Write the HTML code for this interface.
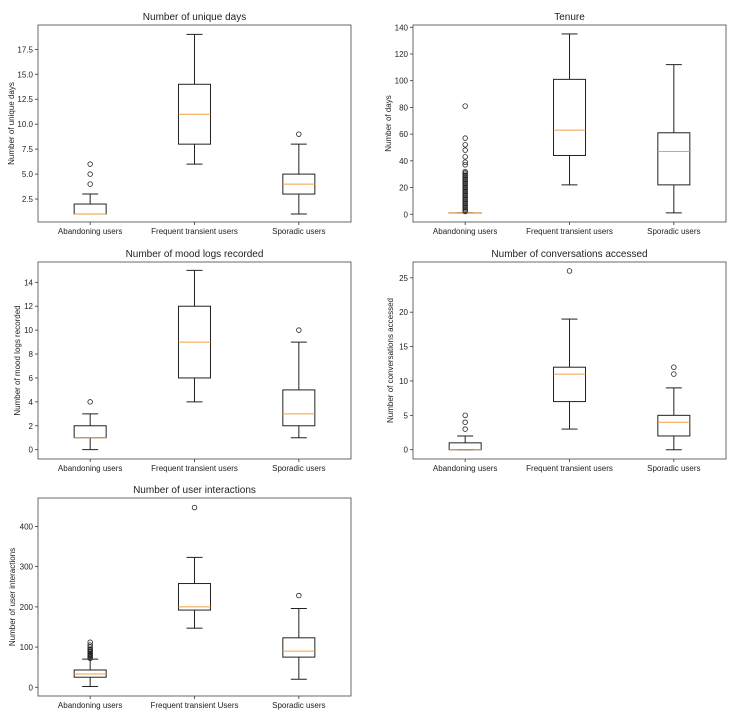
<!DOCTYPE html>
<html><head><meta charset="utf-8"><style>
html,body{margin:0;padding:0;background:#fff;}
svg{display:block;font-family:"Liberation Sans",sans-serif;}
</style></head><body>
<svg id="fig" width="752" height="725" viewBox="0 0 752 725"></svg>
<script>
// ---- Data ----
const categories = ["Abandoning users","Frequent transient users","Sporadic users"];
const categories5 = ["Abandoning users","Frequent transient Users","Sporadic users"];
// stats: [low whisker, q1, median, q3, high whisker]
const uniqueDaysStats = [[1,1,1,2,3],[6,8,11,14,19],[1,3,4,5,8]];
const uniqueDaysFliers = [[4,5,6],[],[9]];
const uniqueDaysTicks = [2.5,5,7.5,10,12.5,15,17.5];
const tenureStats = [[1,1,1,1,1],[22,44,63,101,135],[1,22,47,61,112]];
const tenureFliers = [[2,3,4,5,6,7,8,9,10,11,12,13,14,15,16,17,18,19,20,21,22,23,24,25,26,27,28,29,30,31,32,37,39,43,48,52,57,81],[],[]];
const tenureTicks = [0,20,40,60,80,100,120,140];
const moodStats = [[0,1,1,2,3],[4,6,9,12,15],[1,2,3,5,9]];
const moodFliers = [[4],[],[10]];
const moodTicks = [0,2,4,6,8,10,12,14];
const convStats = [[0,0,0,1,2],[3,7,11,12,19],[0,2,4,5,9]];
const convFliers = [[3,4,5],[26],[11,12]];
const convTicks = [0,5,10,15,20,25];
const interStats = [[2,25,33,43,70],[147,192,200,258,323],[20,75,90,123,196]];
const interFliers = [[72,75,78,80,82,85,88,90,93,95,100,105,112],[447],[228]];
const interTicks = [0,100,200,300,400];

const panels = [
 {name:"unique-days",title:"Number of unique days",ylabel:"Number of unique days",x0:38,x1:351,y0:25,y1:222,dom:[0.2,19.94],stats:uniqueDaysStats,fliers:uniqueDaysFliers,ticks:uniqueDaysTicks,cats:categories,fmt:v=>v.toFixed(1),ylx:12},
 {name:"tenure",title:"Tenure",ylabel:"Number of days",x0:413,x1:726,y0:25,y1:222,dom:[-5.8,141.7],stats:tenureStats,fliers:tenureFliers,ticks:tenureTicks,cats:categories,fmt:v=>String(v),ylx:389},
 {name:"mood-logs",title:"Number of mood logs recorded",ylabel:"Number of mood logs recorded",x0:38,x1:351,y0:262,y1:459,dom:[-0.78,15.7],stats:moodStats,fliers:moodFliers,ticks:moodTicks,cats:categories,fmt:v=>String(v),ylx:18},
 {name:"conversations",title:"Number of conversations accessed",ylabel:"Number of conversations accessed",x0:413,x1:726,y0:262,y1:459,dom:[-1.35,27.3],stats:convStats,fliers:convFliers,ticks:convTicks,cats:categories,fmt:v=>String(v),ylx:391},
 {name:"user-interactions",title:"Number of user interactions",ylabel:"Number of user interactions",x0:38,x1:351,y0:498,y1:696,dom:[-21.7,470.7],stats:interStats,fliers:interFliers,ticks:interTicks,cats:categories5,fmt:v=>String(v),ylx:13}
];
const NS="http://www.w3.org/2000/svg";
const svg=document.getElementById('fig');
function mk(tag,attrs,parent){const e=document.createElementNS(NS,tag);for(const k in attrs)e.setAttribute(k,attrs[k]);(parent||svg).appendChild(e);return e;}
panels.forEach(p=>{
  const g=mk('g',{});
  
  
  const y=v=>p.y1-(v-p.dom[0])/(p.dom[1]-p.dom[0])*(p.y1-p.y0);
  const w=p.x1-p.x0;
  const x=i=>p.x0+w*(i+0.5)/3*1+0; // centers
  const cx=i=>p.x0+w*(0.5+i)/3;
  const t=mk('text',{x:(p.x0+p.x1)/2,y:p.y0-5,'text-anchor':'middle','font-size':10,fill:'#222'},g);
  t.textContent=p.title;
  
  
  const yl=mk('text',{x:p.ylx,y:(p.y0+p.y1)/2,'text-anchor':'middle','font-size':8,fill:'#222',transform:`rotate(-90 ${p.ylx} ${(p.y0+p.y1)/2})`,'dominant-baseline':'middle'},g);
  yl.textContent=p.ylabel;
  
  
  p.ticks.forEach(v=>{
    const yy=y(v);
    mk('line',{x1:p.x0-3,x2:p.x0,y1:yy,y2:yy,stroke:'#333','stroke-width':0.8},g);
    const tl=mk('text',{x:p.x0-5,y:yy+3,'text-anchor':'end','font-size':8,fill:'#222'},g);
    tl.textContent=p.fmt(v);
    
    
  });
  p.cats.forEach((c,i)=>{
    const xx=cx(i);
    mk('line',{x1:xx,x2:xx,y1:p.y1,y2:p.y1+3,stroke:'#333','stroke-width':0.8},g);
    const xl=mk('text',{x:xx,y:p.y1+12,'text-anchor':'middle','font-size':8,fill:'#222'},g);
    xl.textContent=c;
    
    
    const s=p.stats[i];
    const bw=32,cw=16;
    const bg=mk('g',{},g);
    
    
    mk('line',{x1:xx,x2:xx,y1:y(s[0]),y2:y(s[1]),stroke:'#222','stroke-width':1},bg);
    mk('line',{x1:xx,x2:xx,y1:y(s[3]),y2:y(s[4]),stroke:'#222','stroke-width':1},bg);
    mk('line',{x1:xx-cw/2,x2:xx+cw/2,y1:y(s[0]),y2:y(s[0]),stroke:'#222','stroke-width':1},bg);
    mk('line',{x1:xx-cw/2,x2:xx+cw/2,y1:y(s[4]),y2:y(s[4]),stroke:'#222','stroke-width':1},bg);
    mk('rect',{x:xx-bw/2,y:y(s[3]),width:bw,height:Math.max(0.01,y(s[1])-y(s[3])),fill:'none',stroke:'#222','stroke-width':1},bg);
    mk('line',{x1:xx-bw/2,x2:xx+bw/2,y1:y(s[2]),y2:y(s[2]),stroke:'#f0a040','stroke-width':1},bg);
    p.fliers[i].forEach(f=>{
      mk('circle',{cx:xx,cy:y(f),r:2.3,fill:'none',stroke:'#222','stroke-width':0.8},bg);
    });
  });
  const fr=mk('rect',{x:p.x0,y:p.y0,width:w,height:p.y1-p.y0,fill:'none',stroke:'#444','stroke-width':0.8},g);
  
  
});
</script>
</body></html>
